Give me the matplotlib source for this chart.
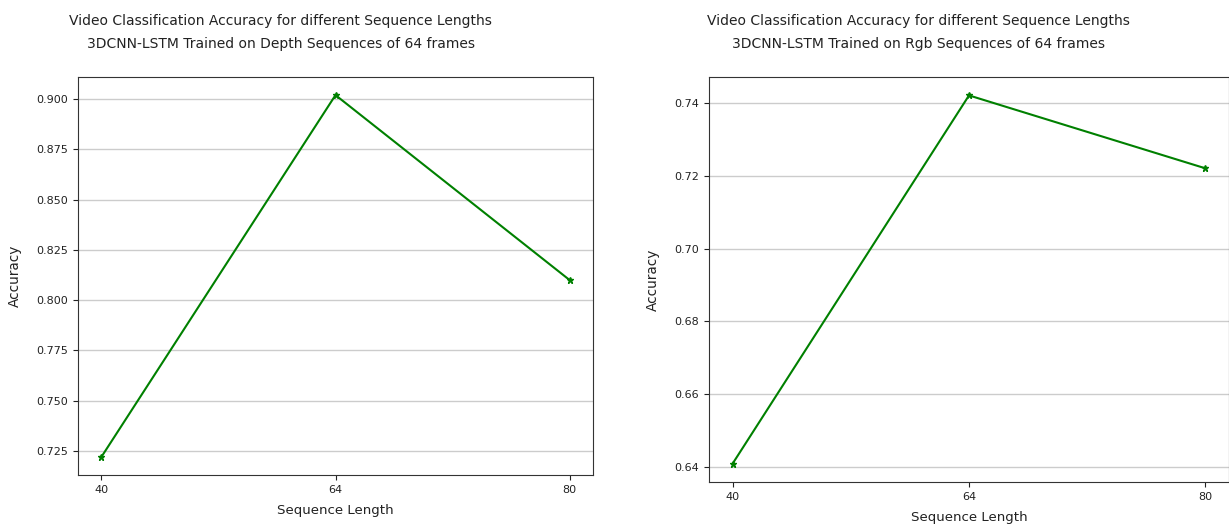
import numpy as np
import matplotlib.pyplot as plt

seq_lengths = ['40', '64', '80']
depth_acc = [0.722, 0.902, 0.810]
rgb_acc = [0.641, 0.742, 0.722]

title_top = 'Video Classification Accuracy for different Sequence Lengths'
depth_title = title_top + '\n3DCNN-LSTM Trained on Depth Sequences of 64 frames'
rgb_title = title_top + '\n3DCNN-LSTM Trained on Rgb Sequences of 64 frames'

plt.rcParams['font.size'] = 8
plt.rcParams['text.color'] = '#222222'
plt.rcParams['axes.labelcolor'] = '#222222'
plt.rcParams['xtick.color'] = '#222222'
plt.rcParams['ytick.color'] = '#222222'
W, H = 1229, 524
fig = plt.figure(figsize=(W / 100, H / 100), dpi=100)

ax1 = fig.add_axes([78 / W, (H - 475) / H, 515 / W, 398 / H])
ax2 = fig.add_axes([709 / W, (H - 482) / H, 520 / W, 405 / H])

for ax, acc, title, tx in [(ax1, depth_acc, depth_title, 0.394),
                           (ax2, rgb_acc, rgb_title, 0.402)]:
    x = np.arange(len(seq_lengths))
    ax.plot(x, acc, color='green', marker='*', markersize=5, linewidth=1.5)
    ax.set_xticks(x)
    ax.set_xticklabels(seq_lengths)
    ax.yaxis.grid(True, color='#cccccc', linewidth=1)
    ax.set_axisbelow(True)
    ax.set_xlabel('Sequence Length', fontsize=9.6, labelpad=7)
    ax.set_ylabel('Accuracy', fontsize=9.8, labelpad=10.5)
    ax.set_title(title, fontsize=10, x=tx, pad=21, linespacing=1.8)
    for s in ax.spines.values():
        s.set_color('#333333')

ax1.set_yticks(np.arange(0.725, 0.901, 0.025))
ax2.set_yticks(np.arange(0.64, 0.741, 0.02))

fig.savefig('out.png', dpi=100)
